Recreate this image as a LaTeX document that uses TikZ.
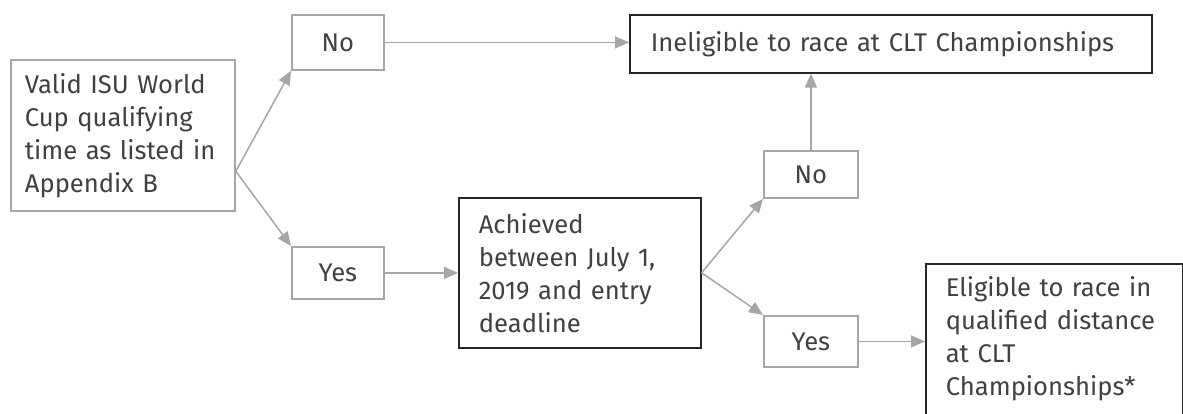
\documentclass[tikz,border=0pt]{standalone}
\usepackage{fontspec}
\setmainfont{Fira Sans}
\usetikzlibrary{arrows.meta,calc}
\definecolor{linegray}{HTML}{A6A6A6}
\definecolor{textgray}{HTML}{404040}
\definecolor{boxblack}{HTML}{262626}

\begin{document}
\begin{tikzpicture}[x=0.5pt,y=-0.5pt,
    every node/.style={font=\fontsize{12.8}{16.5}\selectfont,text=textgray,anchor=north west,inner sep=0pt},
    gbox/.style={draw=linegray,line width=.9pt},
    bbox/.style={draw=boxblack,line width=.8pt},
    ans/.style={gbox,align=center},
    txt/.style={align=left,text width=#1,inner xsep=10pt},
    link/.style={draw=linegray,line width=.75pt,-{Triangle[length=7pt,width=6pt]}}]
    \useasboundingbox (0,0) rectangle (1183,413);
    \clip (0,0) rectangle (1183,413);

    \node[gbox,txt=98pt,inner xsep=7pt,minimum height=75.5pt] (valid) at (10,59) {Valid ISU World\\Cup qualifying\\time as listed in\\Appendix B};
    \node[ans,minimum width=46pt,minimum height=27.5pt] (no1) at (291,14) {No};
    \node[ans,minimum width=46pt,minimum height=26pt] (yes1) at (291,246) {Yes};
    \node[bbox,txt=240pt,inner xsep=10.5pt,minimum height=29pt] (inel) at (629,14) {Ineligible to race at CLT Championships};
    \node[bbox,txt=101pt,minimum height=75pt] (ach) at (458,197) {Achieved\\between July 1,\\2019 and entry\\deadline};
    \node[ans,minimum width=47pt,minimum height=23.5pt] (no2) at (763,150) {No};
    \node[ans,minimum width=47pt,minimum height=25.5pt] (yes2) at (763,315) {Yes};
    \node[bbox,txt=108.25pt,text depth=58.5pt,minimum height=81pt] (elig) at (925,263) {Eligible to race in\\qualified distance\\at CLT\\Championships*};

    \coordinate (vfork) at ($(valid.south east)!0.265!(valid.north east)$);
    \draw[link] (vfork) -- (no1.south west);
    \draw[link] (vfork) -- (yes1.north west);
    \draw[link] (no1.east) -- (no1.east -| inel.west);
    \draw[link] (yes1.east) -- (yes1.east -| ach.west);
    \draw[link] (ach.east) -- (no2.south west);
    \draw[link] (ach.east) -- (yes2.north west);
    \draw[link] (no2.north) -- (no2.north |- inel.south);
    \draw[link] (yes2.east) -- (yes2.east -| elig.west);
\end{tikzpicture}
\end{document}
